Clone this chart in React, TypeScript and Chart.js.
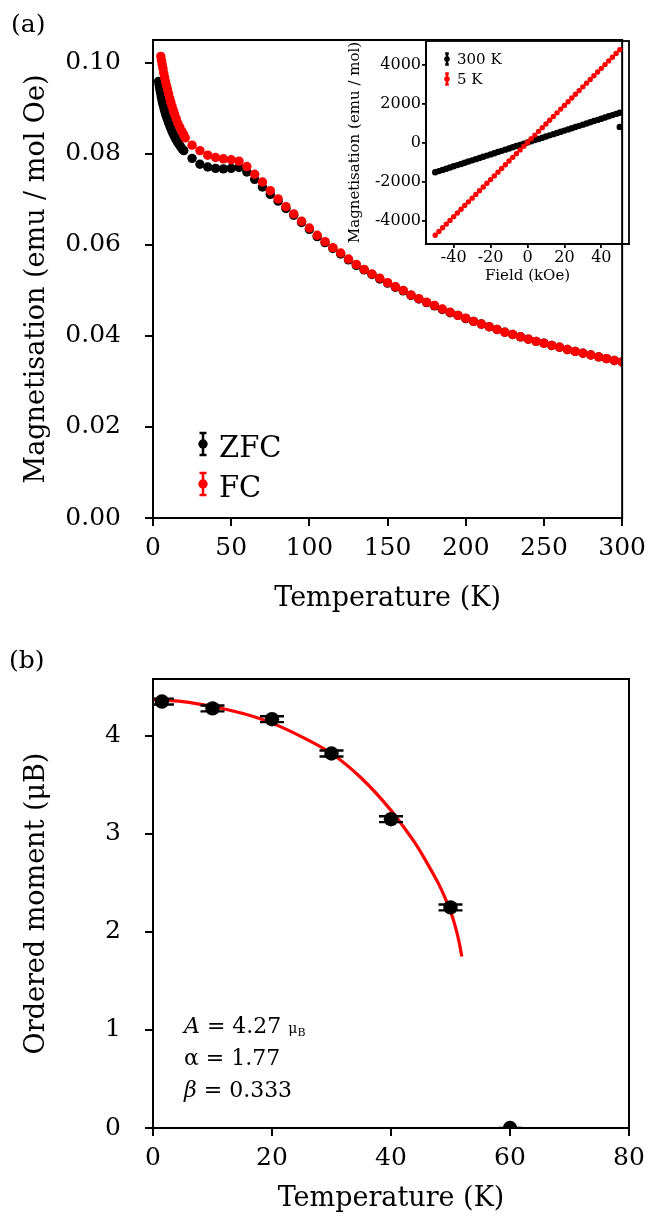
import React, { useEffect, useRef } from "react";
import { Chart, registerables } from "chart.js";

Chart.register(...registerables);

const SERIF = "'DejaVu Serif', serif";

// ---------------- Panel (a): M(T), ZFC / FC ----------------
const zfcTemperature = [
  3.6, 3.9, 4.2, 4.5, 4.9, 5.3, 5.7, 6.1, 6.6, 7.1, 7.6, 8.2, 8.8, 9.4, 10.0, 10.7, 11.4, 12.2, 13.0, 13.9,
  14.8, 15.8, 16.8, 17.8, 18.8, 19.7,
  25, 30, 35, 40, 45, 50, 55, 60, 65, 70, 75, 80, 85, 90, 95, 100, 105, 110, 115, 120, 125, 130, 135, 140,
  145, 150, 155, 160, 165, 170, 175, 180, 185, 190, 195, 200, 205, 210, 215, 220, 225, 230, 235, 240, 245,
  250, 255, 260, 265, 270, 275, 280, 285, 290, 295, 300,
];
const zfcMagnetisation = [
  0.0959, 0.0952, 0.0946, 0.094, 0.0933, 0.0926, 0.0919, 0.0912, 0.0906, 0.0899, 0.0893, 0.0886, 0.088,
  0.0874, 0.0868, 0.0862, 0.0856, 0.0849, 0.0843, 0.0837, 0.0831, 0.0825, 0.082, 0.0815, 0.081, 0.0807,
  0.079, 0.0777, 0.0771, 0.0768, 0.0767, 0.0768, 0.077, 0.076, 0.0744, 0.0727, 0.0711, 0.0696, 0.068,
  0.0665, 0.0649, 0.0634, 0.0618, 0.0605, 0.0592, 0.058, 0.0567, 0.0555, 0.0545, 0.0535, 0.0525, 0.0516,
  0.0507, 0.0499, 0.0489, 0.0481, 0.0473, 0.0466, 0.0458, 0.0451, 0.0445, 0.0438, 0.0432, 0.0426, 0.042,
  0.0414, 0.0408, 0.0403, 0.0398, 0.0393, 0.0388, 0.0384, 0.0379, 0.0375, 0.037, 0.0366, 0.0362, 0.0358,
  0.0354, 0.035, 0.0346, 0.0343,
];
const fcTemperature = [
  5.0, 5.4, 5.9, 6.4, 6.9, 7.4, 8.0, 8.6, 9.3, 10.0, 10.7, 11.4, 12.2, 13.0, 13.9, 14.9, 15.9, 17.2, 18.5,
  19.6, 20.6,
  25, 30, 35, 40, 45, 50, 55, 60, 65, 70, 75, 80, 85, 90, 95, 100, 105, 110, 115, 120, 125, 130, 135, 140,
  145, 150, 155, 160, 165, 170, 175, 180, 185, 190, 195, 200, 205, 210, 215, 220, 225, 230, 235, 240, 245,
  250, 255, 260, 265, 270, 275, 280, 285, 290, 295, 300,
];
const fcMagnetisation = [
  0.1014, 0.1005, 0.0996, 0.0987, 0.0977, 0.0968, 0.0959, 0.095, 0.0941, 0.0932, 0.0922, 0.0913, 0.0904,
  0.0895, 0.0886, 0.0877, 0.0867, 0.0858, 0.0849, 0.0842, 0.0835,
  0.0819, 0.0807, 0.0797, 0.0792, 0.0789, 0.0787, 0.0784, 0.0772, 0.0755, 0.0738, 0.0719, 0.0701, 0.0684,
  0.0668, 0.0652, 0.0637, 0.0621, 0.0607, 0.0594, 0.0582, 0.0569, 0.0557, 0.0546, 0.0536, 0.0527, 0.0517,
  0.0508, 0.05, 0.049, 0.0482, 0.0474, 0.0467, 0.0459, 0.0452, 0.0445, 0.0439, 0.0432, 0.0426, 0.042,
  0.0414, 0.0408, 0.0403, 0.0398, 0.0393, 0.0388, 0.0384, 0.0379, 0.0375, 0.037, 0.0366, 0.0362, 0.0358,
  0.0354, 0.035, 0.0346, 0.0343,
];
const xTicksA = [0, 50, 100, 150, 200, 250, 300];
const yTicksA = [0, 0.02, 0.04, 0.06, 0.08, 0.1];

// ---------------- Inset: M(H) ----------------
const fieldKOe = [
  -50, -48, -46, -44, -42, -40, -38, -36, -34, -32, -30, -28, -26, -24, -22, -20, -18, -16, -14, -12, -10, -8,
  -6, -4, -2, 0, 2, 4, 6, 8, 10, 12, 14, 16, 18, 20, 22, 24, 26, 28, 30, 32, 34, 36, 38, 40, 42, 44, 46, 48, 50,
];
const m5K = [
  -4750, -4560, -4370, -4180, -3990, -3800, -3610, -3420, -3230, -3040, -2850, -2660, -2470, -2280, -2090,
  -1900, -1710, -1520, -1330, -1140, -950, -760, -570, -380, -190, 0, 190, 380, 570, 760, 950, 1140, 1330,
  1520, 1710, 1900, 2090, 2280, 2470, 2660, 2850, 3040, 3230, 3420, 3610, 3800, 3990, 4180, 4370, 4560, 4750,
];
const m300K = [
  -1525, -1464, -1403, -1342, -1281, -1220, -1159, -1098, -1037, -976, -915, -854, -793, -732, -671, -610,
  -549, -488, -427, -366, -305, -244, -183, -122, -61, 0, 61, 122, 183, 244, 305, 366, 427, 488, 549, 610,
  671, 732, 793, 854, 915, 976, 1037, 1098, 1159, 1220, 1281, 1342, 1403, 1464, 1525,
];
const outlierField300K = [50];
const outlierM300K = [800];
const xTicksInset = [-40, -20, 0, 20, 40];
const yTicksInset = [-4000, -2000, 0, 2000, 4000];

// ---------------- Panel (b): ordered moment ----------------
const orderTemperature = [1.5, 10, 20, 30, 40, 50, 60];
const orderMoment = [4.35, 4.28, 4.17, 3.82, 3.15, 2.25, 0];
const orderError = [0.03, 0.03, 0.03, 0.03, 0.03, 0.03, 0];
const fitTemperature = [0, 5, 10, 15, 20, 25, 30, 35, 40, 42, 44, 46, 48, 49, 50, 50.5, 51, 51.5, 51.9];
const fitMoment = [4.37, 4.35, 4.3, 4.23, 4.13, 3.99, 3.82, 3.57, 3.24, 3.08, 2.91, 2.71, 2.49, 2.36, 2.21, 2.12, 2.01, 1.88, 1.75];
const xTicksB = [0, 20, 40, 60, 80];
const yTicksB = [0, 1, 2, 3, 4];
const fitA = "4.27";
const fitAlpha = "1.77";
const fitBeta = "0.333";

const pts = (xs: number[], ys: number[]) => xs.map((x, i) => ({ x, y: ys[i] }));

function framePlugin(width: number) {
  return {
    id: "frame",
    afterDraw(chart: any) {
      const { ctx, chartArea: a } = chart;
      ctx.save();
      ctx.strokeStyle = "#000";
      ctx.lineWidth = width;
      ctx.strokeRect(a.left, a.top, a.right - a.left, a.bottom - a.top);
      ctx.restore();
    },
  };
}

function drawErrMarker(ctx: any, x: number, y: number, r: number, half: number, cap: number, color: string, lw: number) {
  ctx.save();
  ctx.strokeStyle = color;
  ctx.fillStyle = color;
  ctx.lineWidth = lw;
  ctx.beginPath();
  ctx.moveTo(x, y - half);
  ctx.lineTo(x, y + half);
  ctx.moveTo(x - cap, y - half);
  ctx.lineTo(x + cap, y - half);
  ctx.moveTo(x - cap, y + half);
  ctx.lineTo(x + cap, y + half);
  ctx.stroke();
  ctx.beginPath();
  ctx.arc(x, y, r, 0, Math.PI * 2);
  ctx.fill();
  ctx.restore();
}

type LegendItem = { label: string; color: string; my: number; ty: number };
function legendPlugin(
  id: string,
  items: LegendItem[],
  fromBottom: boolean,
  mx: number,
  tx: number,
  fontSize: number,
  marker: { r: number; half: number; cap: number; lw: number }
) {
  return {
    id,
    afterDraw(chart: any) {
      const { ctx, chartArea: a } = chart;
      ctx.save();
      ctx.font = `${fontSize}px ${SERIF}`;
      ctx.fillStyle = "#000";
      ctx.textBaseline = "alphabetic";
      ctx.textAlign = "left";
      items.forEach((it) => {
        const my = fromBottom ? a.bottom - it.my : a.top + it.my;
        const ty = fromBottom ? a.bottom - it.ty : a.top + it.ty;
        drawErrMarker(ctx, a.left + mx, my, marker.r, marker.half, marker.cap, it.color, marker.lw);
        ctx.fillStyle = "#000";
        ctx.fillText(it.label, a.left + tx, ty);
      });
      ctx.restore();
    },
  };
}

function errorBarPlugin(xs: number[], ys: number[], errs: number[], capHalf: number) {
  return {
    id: "errorBars",
    afterDatasetsDraw(chart: any) {
      const { ctx, chartArea: a, scales } = chart;
      ctx.save();
      ctx.beginPath();
      ctx.rect(a.left, a.top, a.right - a.left, a.bottom - a.top);
      ctx.clip();
      ctx.strokeStyle = "#000";
      ctx.lineWidth = 2.4;
      xs.forEach((t, i) => {
        const px = scales.x.getPixelForValue(t);
        const p1 = scales.y.getPixelForValue(ys[i] + errs[i]);
        const p2 = scales.y.getPixelForValue(ys[i] - errs[i]);
        ctx.beginPath();
        ctx.moveTo(px, p1);
        ctx.lineTo(px, p2);
        ctx.moveTo(px - capHalf, p1);
        ctx.lineTo(px + capHalf, p1);
        ctx.moveTo(px - capHalf, p2);
        ctx.lineTo(px + capHalf, p2);
        ctx.stroke();
      });
      ctx.restore();
    },
  };
}

const fitParamsPlugin = {
  id: "fitParams",
  afterDraw(chart: any) {
    const { ctx, chartArea: a } = chart;
    const x0 = a.left + 31;
    const size = 22;
    const rows: { t: string; italic?: boolean; size?: number; dy?: number }[][] = [
      [{ t: "A", italic: true }, { t: " = " + fitA + " " }, { t: "μ", size: 14 }, { t: "B", size: 11, dy: 3 }],
      [{ t: "α" }, { t: " = " + fitAlpha }],
      [{ t: "β", italic: true }, { t: " = " + fitBeta }],
    ];
    const baselines = [95, 63, 31];
    ctx.save();
    ctx.fillStyle = "#000";
    ctx.textBaseline = "alphabetic";
    ctx.textAlign = "left";
    rows.forEach((row, r) => {
      let x = x0;
      const y = a.bottom - baselines[r];
      row.forEach((p) => {
        ctx.font = `${p.italic ? "italic " : ""}${p.size || size}px ${SERIF}`;
        ctx.fillText(p.t, x, y + (p.dy || 0));
        x += ctx.measureText(p.t).width;
      });
    });
    ctx.restore();
  },
};

function axis(o: {
  min: number;
  max: number;
  ticks: number[];
  fmt: (v: number) => string;
  tickSize: number;
  tickPad: number;
  tickLen: number;
  title: string;
  titleSize: number;
  titlePad: { top: number; bottom: number };
  horizontal: boolean;
  forced: number;
  lw: number;
}) {
  return {
    type: "linear",
    min: o.min,
    max: o.max,
    position: o.horizontal ? "bottom" : "left",
    afterBuildTicks: (scale: any) => {
      scale.ticks = o.ticks.map((v) => ({ value: v }));
    },
    afterFit: (scale: any) => {
      if (o.horizontal) scale.height = o.forced;
      else scale.width = o.forced;
    },
    ticks: {
      autoSkip: false,
      maxRotation: 0,
      minRotation: 0,
      padding: o.tickPad,
      color: "#000",
      font: { family: SERIF, size: o.tickSize },
      callback: (v: any) => o.fmt(Number(v)),
    },
    grid: {
      drawOnChartArea: false,
      drawTicks: true,
      tickLength: o.tickLen,
      lineWidth: o.lw,
      color: "#000",
      tickColor: "#000",
    },
    border: { display: true, color: "#000", width: o.lw },
    title: {
      display: true,
      text: o.title,
      color: "#000",
      font: { family: SERIF, size: o.titleSize },
      padding: o.titlePad,
    },
  };
}

export default function App() {
  const aRef = useRef<HTMLCanvasElement>(null);
  const insetRef = useRef<HTMLCanvasElement>(null);
  const bRef = useRef<HTMLCanvasElement>(null);

  useEffect(() => {
    Chart.defaults.font.family = SERIF;
    Chart.defaults.color = "#000";
    const charts: Chart[] = [];

    // Panel (a)
    charts.push(
      new Chart(aRef.current as HTMLCanvasElement, {
        type: "scatter",
        data: {
          datasets: [
            {
              label: "FC",
              data: pts(fcTemperature, fcMagnetisation),
              backgroundColor: "#ff0000",
              borderWidth: 0,
              pointRadius: 4.7,
              pointHoverRadius: 4.7,
            },
            {
              label: "ZFC",
              data: pts(zfcTemperature, zfcMagnetisation),
              backgroundColor: "#000000",
              borderWidth: 0,
              pointRadius: 4.7,
              pointHoverRadius: 4.7,
            },
          ],
        },
        options: {
          animation: false,
          responsive: false,
          events: [],
          layout: { padding: { left: 0, right: 24, top: 40, bottom: 0 } },
          plugins: { legend: { display: false }, tooltip: { enabled: false } },
          scales: {
            x: axis({
              min: 0, max: 300, ticks: xTicksA, fmt: (v) => String(v), tickSize: 25, tickPad: 7, tickLen: 8,
              title: "Temperature (K)", titleSize: 27, titlePad: { top: 0, bottom: 25 }, horizontal: true, forced: 122, lw: 2,
            }),
            y: axis({
              min: 0, max: 0.105, ticks: yTicksA, fmt: (v) => v.toFixed(2), tickSize: 25, tickPad: 24, tickLen: 8,
              title: "Magnetisation (emu / mol Oe)", titleSize: 27, titlePad: { top: 21, bottom: 0 }, horizontal: false, forced: 153, lw: 2,
            }),
          } as any,
        },
        plugins: [
          framePlugin(2),
          legendPlugin(
            "legendA",
            [
              { label: "ZFC", color: "#000000", my: 74, ty: 61 },
              { label: "FC", color: "#ff0000", my: 34, ty: 21 },
            ],
            true, 50, 66, 29, { r: 4.7, half: 11, cap: 3.5, lw: 2.5 }
          ),
        ],
      } as any)
    );

    // Inset
    charts.push(
      new Chart(insetRef.current as HTMLCanvasElement, {
        type: "scatter",
        data: {
          datasets: [
            {
              label: "5 K",
              data: pts(fieldKOe, m5K),
              backgroundColor: "#ff0000",
              borderWidth: 0,
              pointRadius: 2.7,
              pointHoverRadius: 2.7,
            },
            {
              label: "300 K",
              data: pts(fieldKOe, m300K).concat(pts(outlierField300K, outlierM300K)),
              backgroundColor: "#000000",
              borderWidth: 0,
              pointRadius: 3.2,
              pointHoverRadius: 3.2,
            },
          ],
        },
        options: {
          animation: false,
          responsive: false,
          events: [],
          layout: { padding: { left: 0, right: 24, top: 11, bottom: 0 } },
          plugins: { legend: { display: false }, tooltip: { enabled: false } },
          scales: {
            x: axis({
              min: -55, max: 55, ticks: xTicksInset, fmt: (v) => String(v), tickSize: 16, tickPad: 0, tickLen: 4,
              title: "Field (kOe)", titleSize: 15, titlePad: { top: 0, bottom: 15 }, horizontal: true, forced: 56, lw: 1.8,
            }),
            y: axis({
              min: -5200, max: 5200, ticks: yTicksInset, fmt: (v) => String(v), tickSize: 16, tickPad: 1, tickLen: 4,
              title: "Magnetisation (emu / mol)", titleSize: 15, titlePad: { top: 6, bottom: 0 }, horizontal: false, forced: 86, lw: 1.8,
            }),
          } as any,
        },
        plugins: [
          framePlugin(1.8),
          legendPlugin(
            "legendInset",
            [
              { label: "300 K", color: "#000000", my: 18, ty: 23 },
              { label: "5 K", color: "#ff0000", my: 38, ty: 43 },
            ],
            false, 21, 31, 15, { r: 2.8, half: 5.5, cap: 1.8, lw: 2.5 }
          ),
        ],
      } as any)
    );

    // Panel (b)
    charts.push(
      new Chart(bRef.current as HTMLCanvasElement, {
        type: "scatter",
        data: {
          datasets: [
            {
              label: "Ordered moment",
              data: pts(orderTemperature, orderMoment),
              backgroundColor: "#000000",
              borderWidth: 0,
              pointRadius: 7.2,
              pointHoverRadius: 7.2,
              clip: 0,
            },
            {
              label: "Fit",
              data: pts(fitTemperature, fitMoment),
              showLine: true,
              borderColor: "#ff0000",
              borderWidth: 3.2,
              pointRadius: 0,
              pointHoverRadius: 0,
              cubicInterpolationMode: "monotone",
              fill: false,
            },
          ],
        },
        options: {
          animation: false,
          responsive: false,
          events: [],
          layout: { padding: { left: 0, right: 24, top: 24, bottom: 0 } },
          plugins: { legend: { display: false }, tooltip: { enabled: false } },
          scales: {
            x: axis({
              min: 0, max: 80, ticks: xTicksB, fmt: (v) => String(v), tickSize: 25, tickPad: 7, tickLen: 8,
              title: "Temperature (K)", titleSize: 27, titlePad: { top: 0, bottom: 13 }, horizontal: true, forced: 100, lw: 2,
            }),
            y: axis({
              min: 0, max: 4.58, ticks: yTicksB, fmt: (v) => String(v), tickSize: 25, tickPad: 24, tickLen: 8,
              title: "Ordered moment (μB)", titleSize: 27, titlePad: { top: 21, bottom: 0 }, horizontal: false, forced: 153, lw: 2,
            }),
          } as any,
        },
        plugins: [framePlugin(2), errorBarPlugin(orderTemperature, orderMoment, orderError, 12), fitParamsPlugin],
      } as any)
    );

    return () => charts.forEach((c) => c.destroy());
  }, []);

  const abs = (left: number, top: number, w: number, h: number): React.CSSProperties => ({
    position: "absolute",
    left,
    top,
    width: w,
    height: h,
  });

  return (
    <div style={{ position: "absolute", left: 0, top: 0, width: 653, height: 1228, background: "#fff", fontFamily: SERIF, overflow: "hidden" }}>
      <canvas ref={aRef} width={653} height={640} style={abs(0, 0, 653, 640)} />
      <canvas ref={insetRef} width={313} height={270} style={abs(340, 30, 313, 270)} />
      <canvas ref={bRef} width={653} height={588} style={abs(0, 640, 653, 588)} />
      <div style={{ position: "absolute", left: 11, top: 9, fontSize: 25, lineHeight: "30px", color: "#000" }}>(a)</div>
      <div style={{ position: "absolute", left: 9, top: 645, fontSize: 25, lineHeight: "30px", color: "#000" }}>(b)</div>
    </div>
  );
}
